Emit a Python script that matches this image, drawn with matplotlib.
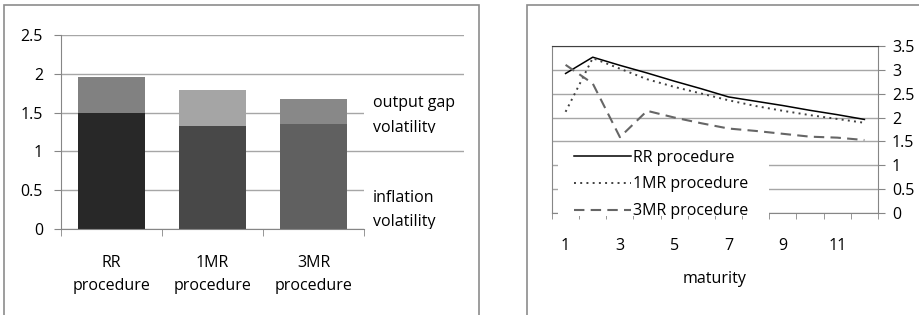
import matplotlib
matplotlib.use("Agg")
import matplotlib.pyplot as plt
from matplotlib.patches import Rectangle

plt.rcParams['font.family'] = ['Open Sans', 'DejaVu Sans']

# left chart: volatility by procedure
procedures = ['RR\nprocedure', '1MR\nprocedure', '3MR\nprocedure']
inflation_vol = [1.50, 1.33, 1.35]
output_gap_vol = [0.46, 0.46, 0.32]
inflation_colors = ['#282828', '#484848', '#606060']
output_colors = ['#818181', '#a5a5a5', '#888888']

# right chart: by maturity
maturity = [1, 2, 3, 4, 5, 6, 7, 8, 9, 10, 11, 12]
rr_proc = [2.92, 3.26, 3.09, 2.93, 2.76, 2.60, 2.43, 2.34, 2.25, 2.15, 2.06, 1.96]
mr1_proc = [2.12, 3.24, 3.02, 2.80, 2.64, 2.50, 2.36, 2.24, 2.14, 2.05, 1.97, 1.89]
mr3_proc = [3.10, 2.71, 1.59, 2.14, 2.00, 1.88, 1.77, 1.72, 1.66, 1.60, 1.58, 1.53]

W, H = 920, 315
fig = plt.figure(figsize=(9.2, 3.15), dpi=100)

grid_c = '#a6a6a6'
axis_c = '#868686'
fs = 11.5

# outer chart frames
fig.add_artist(Rectangle((4 / W, -0.1), 475 / W, 1.1 - 5 / H, fill=False,
                         edgecolor='#8c8c8c', lw=1.2, transform=fig.transFigure))
fig.add_artist(Rectangle((527 / W, -0.1), 0.5, 1.1 - 5 / H, fill=False,
                         edgecolor='#8c8c8c', lw=1.2, transform=fig.transFigure))

# ---------- left chart ----------
ax = fig.add_axes([61 / W, (H - 229) / H, 403 / W, 194 / H])
x = range(len(procedures))
ax.bar(x, inflation_vol, width=0.67, color=inflation_colors, zorder=2)
ax.bar(x, output_gap_vol, bottom=inflation_vol, width=0.67, color=output_colors, zorder=2)
ax.set_xlim(-0.5, 3.49)
ax.set_ylim(0, 2.5)
ax.set_yticks([0, 0.5, 1, 1.5, 2, 2.5])
ax.set_yticklabels(['0', '0.5', '1', '1.5', '2', '2.5'])
ax.set_axisbelow(True)
ax.yaxis.grid(True, color=grid_c, lw=1)
for s in ['top', 'right']:
    ax.spines[s].set_visible(False)
ax.spines['left'].set_color(axis_c)
ax.spines['bottom'].set_color(axis_c)
ax.spines['bottom'].set_bounds(-0.5, 2.5)
ax.set_xticks(list(x))
ax.set_xticklabels(procedures, linespacing=1.55)
ax.set_xticks([-0.5, 0.5, 1.5, 2.5], minor=True)
ax.tick_params(axis='x', which='major', length=0, pad=19, labelsize=fs)
ax.tick_params(axis='x', which='minor', length=5, color=axis_c, direction='out')
ax.tick_params(axis='y', length=5, color=axis_c, pad=8, labelsize=fs)

# legend-like labels with white backgrounds
r1 = Rectangle((2.5, 1.24), 1.0, 0.54, facecolor='white', edgecolor='none', zorder=1)
r2 = Rectangle((2.5, -0.005), 1.0, 0.605, facecolor='white', edgecolor='none', zorder=1)
ax.add_patch(r1)
ax.add_patch(r2)
for txt, yv, rect in [('output gap', 1.62, r1), ('volatility', 1.30, r1),
                      ('inflation', 0.40, r2), ('volatility', 0.085, r2)]:
    t = ax.text(2.59, yv, txt, fontsize=fs, va='center', ha='left', zorder=3, clip_on=True)
    t.set_clip_path(rect)

# ---------- right chart ----------
ax2 = fig.add_axes([552 / W, (H - 213.3) / H, 326 / W, 167.6 / H])
ax2.plot(maturity, rr_proc, color='black', lw=1.1, label='RR procedure', zorder=3)
ax2.plot(maturity, mr1_proc, color='#404040', lw=1.4, linestyle=(0, (1, 2.2)),
         label='1MR procedure', zorder=3)
ax2.plot(maturity, mr3_proc, color='#666666', lw=1.5, linestyle=(0, (5, 3)),
         label='3MR procedure', zorder=3)
ax2.set_xlim(0.5, 12.5)
ax2.set_ylim(0, 3.5)
ax2.yaxis.tick_right()
ax2.set_yticks([0, 0.5, 1, 1.5, 2, 2.5, 3, 3.5])
ax2.set_yticklabels(['0', '0.5', '1', '1.5', '2', '2.5', '3', '3.5'])
ax2.set_axisbelow(True)
ax2.yaxis.grid(True, color=grid_c, lw=1)
ax2.spines['top'].set_color('#404040')
for s in ['left', 'right', 'bottom']:
    ax2.spines[s].set_color(axis_c)
ax2.set_xticks([1, 3, 5, 7, 9, 11])
ax2.set_xticks([m - 0.5 for m in maturity] + [12.5], minor=True)
ax2.tick_params(axis='x', which='major', length=0, pad=18, labelsize=fs)
ax2.tick_params(axis='x', which='minor', length=4, color=axis_c, direction='out')
ax2.tick_params(axis='y', length=5, color=axis_c, pad=5, labelsize=fs)
ax2.set_xlabel('maturity', fontsize=fs, labelpad=12)

# white box behind legend (hides grid and part of the axis line)
ax2.add_patch(Rectangle(((558 - 552) / 326, (213.3 - 216) / 167.6), (769 - 558) / 326,
                        (216 - 144) / 167.6, transform=ax2.transAxes, facecolor='white',
                        edgecolor='none', zorder=2.7, clip_on=False))
leg = ax2.legend(loc='upper left', bbox_to_anchor=((574 - 552) / 326, (213.3 - 149.5) / 167.6),
                 frameon=False, borderpad=0, borderaxespad=0, handlelength=3.6,
                 handletextpad=0.12, labelspacing=0.68, fontsize=fs)
leg.set_zorder(4)

fig.savefig('out.png', dpi=100)
